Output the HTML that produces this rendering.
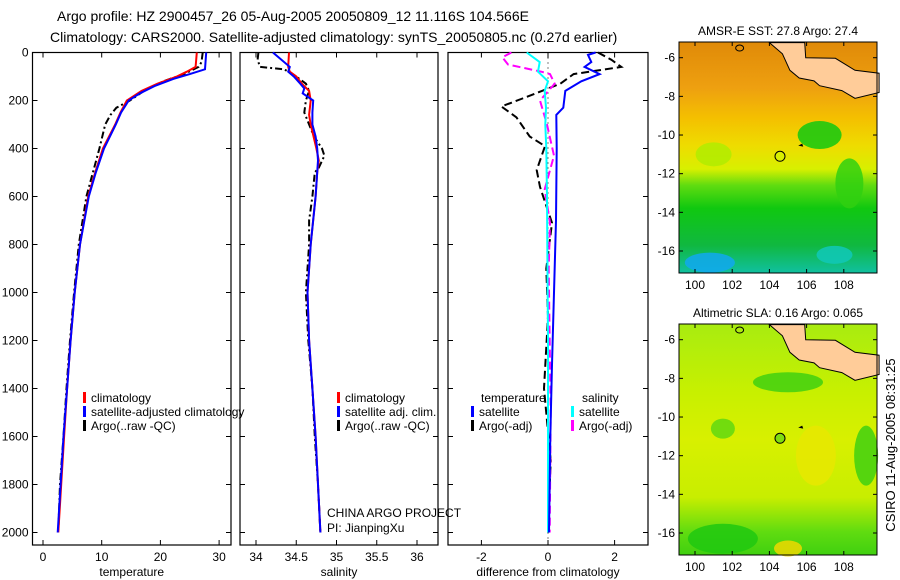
<!DOCTYPE html>
<html><head><meta charset="utf-8"><style>
body{margin:0;background:#fff;}
svg{display:block;font-family:"Liberation Sans",sans-serif;}
</style></head><body>
<svg id="fig" width="900" height="580" viewBox="0 0 900 580" xmlns="http://www.w3.org/2000/svg">
<text x="57" y="21" font-size="14">Argo profile: HZ 2900457_26 05-Aug-2005 20050809_12 11.116S 104.566E</text>
<text x="50" y="42" font-size="14">Climatology: CARS2000. Satellite-adjusted climatology: synTS_20050805.nc (0.27d earlier)</text>
<g id="p1"></g>
<g id="p2"></g>
<g id="p3"></g>
<g id="m1"></g>
<g id="m2"></g>
<text transform="translate(895,445) rotate(-90)" text-anchor="middle" font-size="13">CSIRO 11-Aug-2005 08:31:25</text>
</svg>
<script>
const NS="http://www.w3.org/2000/svg";
// depth ticks
const depthTicks=[0,200,400,600,800,1000,1200,1400,1600,1800,2000];
const tempTicks=[0,10,20,30];
const salTicks=[34,34.5,35,35.5,36];
const diffTicks=[-2,0,2];
// temperature profiles
const tClimDepth=[0,60,80,100,130,160,200,250,300,400,500,600,800,1000,1200,1400,1600,1800,2000];
const tClim=[26.2,26,24.5,22.8,19.5,16.8,14.3,13.2,12.3,10.2,8.9,7.7,6.3,5.4,4.7,4.1,3.6,3.1,2.6];
const tSatDepth=[0,70,90,110,140,170,200,250,300,400,500,600,800,1000,1200,1400,1600,1800,2000];
const tSat=[27.8,27.6,25,22.2,19,16.5,14.6,13.3,12.4,10.4,9.0,7.8,6.3,5.4,4.7,4.1,3.5,3.0,2.5];
const tArgoDepth=[0,40,60,90,120,160,200,230,260,300,400,500,600,800,1000,1200,1400,1600,1800,2000];
const tArgo=[27.2,27,26.5,24,20.5,17.2,14.8,12.5,11.5,10.6,9.6,8.5,7.4,6.1,5.3,4.6,4.0,3.5,2.9,2.6];
// salinity profiles
const sClimDepth=[0,60,80,100,130,160,200,260,300,400,450,500,600,800,1000,1200,1400,1600,1800,2000];
const sClim=[34.41,34.4,34.42,34.5,34.57,34.66,34.68,34.66,34.68,34.75,34.78,34.76,34.74,34.68,34.64,34.66,34.7,34.74,34.77,34.8];
const sSatDepth=[0,20,60,80,100,130,150,170,200,250,300,350,400,450,500,600,800,1000,1200,1400,1600,1800,2000];
const sSat=[34.21,34.28,34.42,34.4,34.47,34.55,34.6,34.58,34.71,34.7,34.7,34.74,34.76,34.77,34.76,34.74,34.68,34.64,34.66,34.7,34.74,34.77,34.8];
const sArgoDepth=[0,30,60,70,100,130,160,200,250,300,350,400,430,480,500,600,700,800,1000,1200,1400,1600,1800,2000];
const sArgo=[34.03,34.02,34.05,34.35,34.5,34.62,34.66,34.62,34.6,34.66,34.72,34.82,34.85,34.78,34.73,34.7,34.66,34.66,34.62,34.65,34.7,34.73,34.77,34.8];
// differences from climatology
const dTSatDepth=[0,10,40,60,90,120,160,230,260,400,700,1000,1300,1600,2000];
const dTSat=[1.43,1.2,1.3,1.1,1.55,1.0,0.52,0.46,0.25,0.26,0.24,0.18,0.12,0.07,0.03];
const dTArgoDepth=[0,30,60,90,130,185,225,270,350,390,490,560,710,900,1100,1400,1700,2000];
const dTArgo=[1.5,1.9,2.2,0.77,0.37,-0.64,-1.4,-0.95,-0.55,-0.09,-0.34,-0.24,0.12,-0.05,0.0,-0.12,0.08,0.0];
const dSSatDepth=[0,40,80,120,160,230,300,400,600,800,1200,1600,2000];
const dSSat=[-0.64,-0.25,-0.3,0.0,-0.1,-0.06,-0.08,-0.05,-0.03,-0.02,0.0,0.0,0.0];
const dSArgoDepth=[0,20,50,80,90,130,200,300,430,570,710,900,1200,1500,2000];
const dSArgo=[-1.1,-1.37,-1.2,-0.2,0.06,0.2,-0.24,-0.03,0.18,-0.1,0.06,0.02,0.05,0.08,0.05];

const TOP=52.5,BOT=545;
const yD=d=>52.5+0.24*d;
function el(tag,attrs,parent){const e=document.createElementNS(NS,tag);for(const k in attrs)e.setAttribute(k,attrs[k]);parent.appendChild(e);return e;}
function panel(gid,x0,x1,xf,ticks,label,showY){
  const g=document.getElementById(gid);
  const box=el('rect',{x:x0,y:TOP,width:x1-x0,height:BOT-TOP,fill:'none',stroke:'#000','stroke-width':1.2},g);
  
  
  ticks.forEach(t=>{const x=xf(t);
    el('line',{x1:x,x2:x,y1:BOT,y2:BOT-5,stroke:'#000'},g);el('line',{x1:x,x2:x,y1:TOP,y2:TOP+5,stroke:'#000'},g);
    const tx=el('text',{x:x,y:BOT+16,'text-anchor':'middle','font-size':12},g);tx.textContent=t;
    
    });
  depthTicks.forEach(d=>{const y=yD(d);
    el('line',{x1:x0,x2:x0+5,y1:y,y2:y,stroke:'#000'},g);el('line',{x1:x1,x2:x1-5,y1:y,y2:y,stroke:'#000'},g);
    if(showY){const tx=el('text',{x:x0-4,y:y+4,'text-anchor':'end','font-size':12},g);tx.textContent=d;
    
    }});
  const lb=el('text',{x:(x0+x1)/2,y:BOT+31,'text-anchor':'middle','font-size':12},g);lb.textContent=label;
  
  
  return g;
}
function line(g,xf,depths,vals,color,w,dash,name){
  const pts=depths.map((d,i)=>xf(vals[i]).toFixed(1)+','+yD(d).toFixed(1)).join(' ');
  const p=el('polyline',{points:pts,fill:'none',stroke:color,'stroke-width':w},g);
  if(dash)p.setAttribute('stroke-dasharray',dash);
  
  
}
function legend(g,x,y,color,text){
  el('rect',{x:x,y:y-10,width:3,height:11,fill:color},g);
  const t=el('text',{x:x+8,y:y,'font-size':12},g);t.textContent=text;
  
  
}
// panel 1
const xT=t=>43+5.87*t;
const g1=panel('p1',32.5,231,xT,tempTicks,'temperature',true);
line(g1,xT,tArgoDepth,tArgo,'#000',2,'7,3,2,3','argo-temperature-line');
line(g1,xT,tClimDepth,tClim,'#f00',2,null,'climatology-temperature-line');
line(g1,xT,tSatDepth,tSat,'#00f',2,null,'satellite-temperature-line');
legend(g1,83,402,'#f00','climatology');legend(g1,83,416,'#00f','satellite-adjusted climatology');legend(g1,83,430,'#000','Argo(..raw -QC)');
// panel 2
const xS=s=>256+80.5*(s-34);
const g2=panel('p2',240,438,xS,salTicks,'salinity',false);
line(g2,xS,sArgoDepth,sArgo,'#000',2,'7,3,2,3','argo-salinity-line');
line(g2,xS,sClimDepth,sClim,'#f00',2,null,'climatology-salinity-line');
line(g2,xS,sSatDepth,sSat,'#00f',2,null,'satellite-salinity-line');
legend(g2,337,402,'#f00','climatology');legend(g2,337,416,'#00f','satellite adj. clim.');legend(g2,337,430,'#000','Argo(..raw -QC)');
const c1=el('text',{x:327,y:517,'font-size':12},g2);c1.textContent='CHINA ARGO PROJECT';


const c2=el('text',{x:327,y:532,'font-size':12},g2);c2.textContent='PI: JianpingXu';


// panel 3
const xDf=v=>548+33.3*v;
const g3=panel('p3',448,648,xDf,diffTicks,'difference from climatology',false);
el('line',{x1:xDf(0),x2:xDf(0),y1:TOP,y2:BOT,stroke:'#000','stroke-dasharray':'1,4'},g3);
line(g3,xDf,dTArgoDepth,dTArgo,'#000',2,'8,4','argo-temperature-diff-line');
line(g3,xDf,dSArgoDepth,dSArgo,'#f0f',2,'8,4','argo-salinity-diff-line');
line(g3,xDf,dSSatDepth,dSSat,'#0ff',2,null,'satellite-salinity-diff-line');
line(g3,xDf,dTSatDepth,dTSat,'#00f',2,null,'satellite-temperature-diff-line');
const lt=el('text',{x:481,y:402,'font-size':12},g3);lt.textContent='temperature';


const ls=el('text',{x:582,y:402,'font-size':12},g3);ls.textContent='salinity';


legend(g3,471,416,'#00f','satellite');legend(g3,471,430,'#000','Argo(-adj)');
legend(g3,571,416,'#0ff','satellite');legend(g3,571,430,'#f0f','Argo(-adj)');

// maps
const lonTicks=[100,102,104,106,108];
const latTicks=[-6,-8,-10,-12,-14,-16];
const landLon=[104.0,105.9,105.95,107.55,108.6,109.9,109.9,108.6,107.9,106.7,106.4,105.6,105.1,104.7];
const landLat=[-5.22,-5.22,-6.0,-6.03,-6.65,-6.8,-7.8,-8.1,-7.7,-7.45,-7.2,-7.05,-6.65,-5.8];
function map(gid,top,title,stops,blobs,circleFill){
  const g=document.getElementById(gid);
  const L=679,R=877,H=231;
  const xl=lon=>695+18.6*(lon-100);
  const yl=lat=>top+15.7+19.33*(-6-lat);
  const gid2=gid+'grad';
  const defs=el('defs',{},g);
  const lg=el('linearGradient',{id:gid2,x1:0,y1:0,x2:0,y2:1},defs);
  stops.forEach(s=>el('stop',{offset:s[0],'stop-color':s[1]},lg));
  const bg=el('rect',{x:L,y:top,width:R-L,height:H,fill:'url(#'+gid2+')'},g);
  
  
  blobs.forEach(b=>el('ellipse',{cx:xl(b[0]),cy:yl(b[1]),rx:b[2],ry:b[3],fill:b[4],opacity:0.85},g));
  const pts=landLon.map((lo,i)=>xl(lo).toFixed(1)+','+yl(landLat[i]).toFixed(1)).join(' ');
  const land=el('polygon',{points:pts,fill:'#ffcc99',stroke:'#000','stroke-width':1},g);
  
  
  el('ellipse',{cx:xl(102.4),cy:yl(-5.5),rx:4,ry:3,fill:'none',stroke:'#000'},g);
  el('rect',{x:L,y:top,width:R-L,height:H,fill:'none',stroke:'#000','stroke-width':1},g);
  const c=el('circle',{cx:xl(104.57),cy:yl(-11.1),r:5,fill:circleFill,stroke:'#000','stroke-width':1},g);
  
  
  el('path',{d:`M${xl(105.55)} ${yl(-10.55)} l4 -2 l1 3 z`,fill:'#000'},g);
  lonTicks.forEach(lo=>{const x=xl(lo);el('line',{x1:x,x2:x,y1:top+H,y2:top+H-4,stroke:'#000'},g);el('line',{x1:x,x2:x,y1:top,y2:top+4,stroke:'#000'},g);
    const t=el('text',{x:x,y:top+H+16,'text-anchor':'middle','font-size':12},g);t.textContent=lo;
    
    });
  latTicks.forEach(la=>{const y=yl(la);el('line',{x1:L,x2:L+4,y1:y,y2:y,stroke:'#000'},g);el('line',{x1:R,x2:R-4,y1:y,y2:y,stroke:'#000'},g);
    const t=el('text',{x:L-4,y:y+4,'text-anchor':'end','font-size':12},g);t.textContent=la;
    
    });
  const tt=el('text',{x:(L+R)/2,y:top-7,'text-anchor':'middle','font-size':12},g);tt.textContent=title;
  
  
}
map('m1',42,'AMSR-E SST: 27.8 Argo: 27.4',
 [[0,'#e08a08'],[0.2,'#eea010'],[0.33,'#f4c000'],[0.45,'#eedc00'],[0.55,'#d8f000'],[0.62,'#60dc10'],[0.72,'#10c810'],[0.88,'#10b840'],[1,'#10c0a0']],
 [[106.7,-10,22,14,'#10c810'],[108.3,-12.5,14,25,'#30d010'],[100.8,-16.6,25,10,'#10a8f0'],[107.5,-16.2,18,9,'#10c8b8'],[101,-11,18,12,'#b0ec00']],'#d8f000');
map('m2',324,'Altimetric SLA: 0.16 Argo: 0.065',
 [[0,'#a8ec10'],[0.3,'#c8f000'],[0.5,'#d8f000'],[0.75,'#c8ee00'],[0.9,'#60dc10'],[1,'#40d010']],
 [[101.5,-16.3,35,15,'#20c810'],[101.5,-10.6,12,10,'#60d810'],[105,-8.2,35,10,'#40d010'],[109.2,-12,12,30,'#40d010'],[106.5,-12,20,30,'#e8e800'],[105,-16.8,14,8,'#f0d800']],'#80dc10');
</script>
</body></html>
